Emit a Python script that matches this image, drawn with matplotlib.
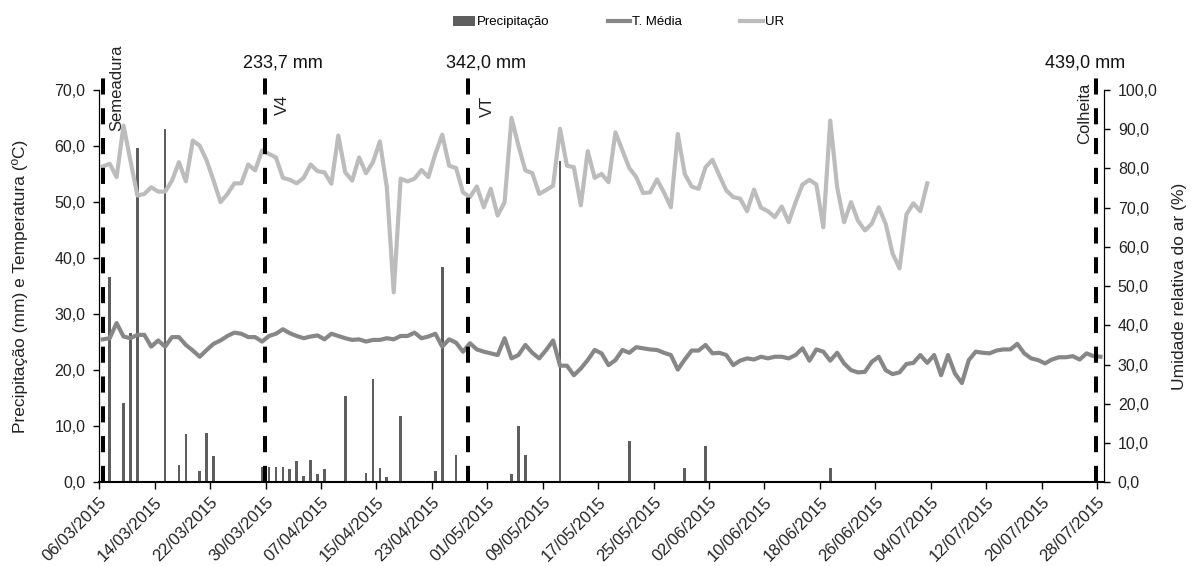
import numpy as np
import matplotlib
matplotlib.use('Agg')
import matplotlib.pyplot as plt
from matplotlib.ticker import FuncFormatter, MultipleLocator
from matplotlib.patches import Patch
from matplotlib.lines import Line2D

# --- data (day 0 = 06/03/2015) ---
tick_labels = ['06/03/2015', '14/03/2015', '22/03/2015', '30/03/2015', '07/04/2015',
               '15/04/2015', '23/04/2015', '01/05/2015', '09/05/2015', '17/05/2015',
               '25/05/2015', '02/06/2015', '10/06/2015', '18/06/2015', '26/06/2015',
               '04/07/2015', '12/07/2015', '20/07/2015', '28/07/2015']
tick_days = [0, 8, 16, 24, 32, 40, 48, 56, 64, 72, 80, 88, 96, 104, 112, 120, 128, 136, 144]

# precipitation (mm): day index and amount
rain_day = [1, 3, 4, 5, 6, 7, 9, 11, 12, 14, 15, 16,
            23, 24, 25, 26, 27, 28, 29, 30, 31, 32,
            35, 38, 39, 40, 41, 43, 47, 48, 49, 51,
            59, 60, 61, 66, 67, 75, 76, 77, 84, 87, 105]
rain_mm = [36.7, 14.2, 26.6, 59.6, 0.3, 0.3, 63.0, 3.0, 8.6, 2.0, 8.8, 4.6,
           2.8, 2.8, 2.8, 2.8, 2.3, 3.7, 1.2, 4.0, 1.5, 2.3,
           15.4, 1.7, 18.5, 2.5, 1.0, 11.9, 0.2, 2.0, 38.4, 4.8,
           1.5, 10.1, 4.8, 57.4, 0.2, 0.2, 7.3, 0.3, 2.5, 6.5, 2.5]

# mean temperature (C), daily from 06/03 to 28/07
t_media = [25.5, 25.7, 28.4, 26.0, 25.7, 26.3, 26.3, 24.2, 25.3, 24.2,
           25.9, 25.9, 24.5, 23.5, 22.4, 23.6, 24.7, 25.3, 26.1, 26.7,
           26.5, 25.9, 25.9, 25.1, 26.1, 26.5, 27.3, 26.6, 26.1, 25.7,
           26.0, 26.2, 25.5, 26.5, 26.1, 25.7, 25.4, 25.5, 25.1, 25.4,
           25.4, 25.7, 25.5, 26.1, 26.1, 26.7, 25.7, 26.0, 26.5, 24.2,
           25.5, 24.9, 23.3, 24.8, 23.7, 23.3, 23.0, 22.7, 25.7, 22.1,
           22.7, 24.5, 23.1, 22.1, 23.6, 25.3, 20.8, 20.8, 19.1, 20.3,
           21.8, 23.6, 23.0, 20.9, 21.8, 23.6, 23.1, 24.1, 23.9, 23.7,
           23.6, 23.1, 22.7, 20.1, 21.9, 23.5, 23.5, 24.5, 23.0, 23.1,
           22.7, 20.9, 21.7, 22.1, 21.9, 22.4, 22.1, 22.4, 22.4, 22.1,
           22.7, 23.9, 21.7, 23.7, 23.3, 21.7, 23.1, 21.2, 20.0, 19.6,
           19.7, 21.5, 22.4, 20.0, 19.3, 19.6, 21.1, 21.3, 22.7, 21.3,
           22.7, 19.1, 22.7, 19.4, 17.7, 21.8, 23.3, 23.1, 23.0, 23.5,
           23.7, 23.7, 24.7, 23.0, 22.1, 21.8, 21.2, 21.9, 22.3, 22.3,
           22.5, 21.9, 23.0, 22.5, 22.4]

# relative humidity (%), daily from 06/03 to 03/07
ur = [80.5, 81.2, 77.8, 90.9, 82.0, 73.1, 73.5, 75.2, 74.1, 74.1,
      76.9, 81.6, 76.7, 87.1, 85.8, 82.0, 76.9, 71.4, 73.5, 76.2,
      76.2, 81.0, 79.5, 84.6, 83.7, 82.8, 77.6, 77.1, 76.2, 77.6,
      81.0, 79.3, 79.0, 76.1, 88.4, 79.0, 76.9, 82.8, 78.8, 81.6,
      86.9, 75.2, 48.4, 77.4, 76.7, 77.4, 79.6, 77.8, 83.7, 88.6,
      80.7, 80.1, 73.9, 72.7, 75.4, 70.1, 74.8, 68.0, 71.4, 92.9,
      85.8, 79.5, 78.8, 73.5, 74.5, 75.6, 90.1, 80.7, 80.3, 70.6,
      84.4, 77.6, 78.6, 76.5, 89.2, 84.6, 80.1, 77.8, 73.7, 73.9,
      77.2, 73.9, 70.1, 88.8, 78.6, 75.4, 74.8, 80.3, 82.2, 78.2,
      74.4, 72.7, 72.3, 69.1, 74.6, 70.0, 69.1, 67.6, 70.3, 66.3,
      71.4, 75.9, 77.1, 75.9, 65.0, 92.2, 75.2, 66.3, 71.4, 66.7,
      64.2, 65.9, 70.1, 65.9, 58.3, 54.5, 68.3, 71.1, 69.1, 76.2]

# crop stages and accumulated rain
stage_names = ['Semeadura', 'V4', 'VT', 'Colheita']
stage_days = [0.6, 23.9, 53.2, 143.9]
stage_rain = [None, 233.7, 342.0, 439.0]

# --- style ---
plt.rcParams['font.family'] = ['Liberation Sans', 'DejaVu Sans']

comma = FuncFormatter(lambda v, p: f'{v:.1f}'.replace('.', ','))

fig = plt.figure(figsize=(11.96, 5.66), dpi=100)
ax = fig.add_axes([0.083, 0.148, 0.840, 0.693])
ax2 = ax.twinx()

x_t = np.arange(len(t_media)) + 0.5
x_ur = np.arange(len(ur)) + 0.5
ax.bar(np.array(rain_day) + 0.5, rain_mm, width=0.38, color='#5e5e5e', zorder=2)
ax.plot(x_t, t_media, color='#878787', lw=3, zorder=3)
ax2.plot(x_ur, ur, color='#bcbcbc', lw=3, zorder=3)

ax.set_xlim(0, 145)
ax.set_ylim(0, 70)
ax2.set_ylim(0, 100)
ax.yaxis.set_major_locator(MultipleLocator(10))
ax2.yaxis.set_major_locator(MultipleLocator(10))
ax.yaxis.set_major_formatter(comma)
ax2.yaxis.set_major_formatter(comma)

ax.set_xticks(tick_days)
ax.set_xticklabels(tick_labels, rotation=45, ha='right', va='top',
                   rotation_mode='anchor', fontsize=12, color='#222222')
ax.tick_params(axis='x', direction='out', length=5, width=1, pad=4)
ax.tick_params(axis='y', direction='out', length=4, width=1, labelsize=11.5,
               labelcolor='#222222', pad=6)
ax2.tick_params(axis='y', direction='out', length=4, width=1, labelsize=11.5,
                labelcolor='#222222', pad=6)

for a in (ax, ax2):
    a.spines['top'].set_visible(False)
ax.spines['bottom'].set_linewidth(1.5)
ax2.spines['bottom'].set_visible(False)

ax.set_ylabel('Precipitação (mm) e Temperatura (ºC)', fontsize=12.5, color='#222222', labelpad=19)
ax2.set_ylabel('Umidade relativa do ar (%)', fontsize=12.5, color='#222222', labelpad=10)

# stage markers (dashed lines drawn a bit above the plot area)
text_dx = [13, 18, 20, -12]
text_bottom = [89.6, 93.5, 93.0, 86.3]
for name, d, r, dx, yb in zip(stage_names, stage_days, stage_rain, text_dx, text_bottom):
    ax2.plot([d, d], [0, 103], color='black', lw=2.9, dashes=(4.0, 3.4),
             clip_on=False, zorder=5)
    ax2.annotate(name, xy=(d, yb), xytext=(dx * 0.72, 0), textcoords='offset points',
                 rotation=90, ha='center', va='bottom', fontsize=12, color='#222222',
                 annotation_clip=False)
    if r is not None:
        ox = 13 if d < 140 else -8
        ax2.annotate(f'{r:.1f} mm'.replace('.', ','), xy=(d, 107), xytext=(ox, 0),
                     textcoords='offset points', ha='center', va='center',
                     fontsize=13, color='#111111', annotation_clip=False)

handles = [Patch(facecolor='#5e5e5e', edgecolor='none'),
           Line2D([], [], color='#878787', lw=3),
           Line2D([], [], color='#bcbcbc', lw=3)]
fig.legend(handles, ['Precipitação', 'T. Média', 'UR'], loc='center',
           bbox_to_anchor=(0.517, 0.961), ncol=3, frameon=False,
           prop={'size': 9.5}, handlelength=1.7, handleheight=0.8,
           handletextpad=0.15, columnspacing=4.4)

fig.savefig('out.png', dpi=100)
